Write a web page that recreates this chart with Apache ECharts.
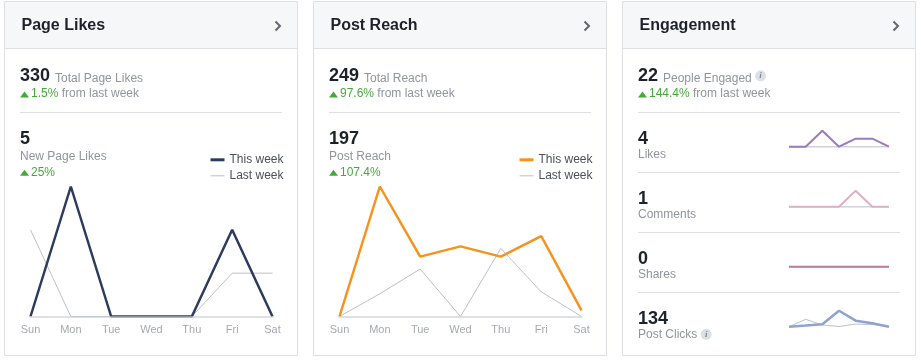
<!DOCTYPE html>
<html>
<head>
<meta charset="utf-8">
<script src="https://cdn.jsdelivr.net/npm/echarts@6/dist/echarts.min.js"></script>
<style>
html,body{margin:0;padding:0;background:#fff;}
#chart{width:921px;height:360px;}
</style>
</head>
<body>
<div id="chart"></div>
<script>
// ---------- data ----------
const days = ['Sun','Mon','Tue','Wed','Thu','Fri','Sat'];
const pageLikesThisWeek = [0,3,0,0,0,2,0];
const pageLikesLastWeek = [2,0,0,0,0,1,1];
const postReachThisWeek = [0,63,29,34,29,39,3];
const postReachLastWeek = [0,11,23,0,33,12,0];
const engLikesThisWeek = [0,0,2,0,1,1,0];
const engLikesLastWeek = [0,0,0,0,0,0,0];
const commentsThisWeek = [0,0,0,0,1,0,0];
const commentsLastWeek = [0,0,0,0,0,0,0];
const sharesThisWeek = [0,0,0,0,0,0,0];
const sharesLastWeek = [0,0,0,0,0,0,0];
const postClicksThisWeek = [0,5,11,74,28,16,0];
const postClicksLastWeek = [0,34,8,1,12,10,0];

const panelTitles = ['Page Likes','Post Reach','Engagement'];
const totalValues = ['330','249','22'];
const totalLabels = ['Total Page Likes','Total Reach','People Engaged'];
const weekChanges = ['1.5%','97.6%','144.4%'];
const fromLastWeek = 'from last week';
const chartValues = ['5','197'];
const chartLabels = ['New Page Likes','Post Reach'];
const chartChanges = ['25%','107.4%'];
const legendLabels = ['This week','Last week'];
const engValues = ['4','1','0','134'];
const engLabels = ['Likes','Comments','Shares','Post Clicks'];
const engInfo = [false,false,false,true];

// ---------- styling ----------
const FONT = '"Liberation Sans", Arial, Helvetica, sans-serif';
const C = {
  border:'#dddfe2', header:'#f6f7f9', title:'#1d2129', num:'#1d2129', gray:'#90949c',
  green:'#45a93a', legend:'#4b4f56', axis:'#a5a9b0', chevron:'#606770',
  navy:'#2c3b5e', orange:'#f6921e', last:'#bcc0c7',
  purple:'#9b7bbb', pink:'#dcb1c3', mauve:'#b97c98', blue:'#8fa3cf', sparkLast:'#cfd2d8'
};
const panelX = [4.5, 313.5, 622.5];
const PW = 293;

const richBase = {
  num:{fontSize:18, fontWeight:'bold', fill:C.num, fontFamily:FONT, verticalAlign:'bottom'},
  lbl:{fontSize:12, fill:C.gray, fontFamily:FONT, verticalAlign:'bottom'},
  g:{fontSize:12, fill:C.green, fontFamily:FONT},
  n:{fontSize:12, fill:C.gray, fontFamily:FONT},
  info:{fontSize:9, fontStyle:'italic', fontWeight:'bold', fill:'#80858e', fontFamily:'"Liberation Serif", serif',
        backgroundColor:'#dcdfe3', borderRadius:6, width:11, height:11, lineHeight:11, align:'center', verticalAlign:'middle'}
};

const G = [];
function text(x, y, t, extra) {
  G.push({type:'text', z:10, silent:true, x:x, y:y,
    style:Object.assign({text:t, fontFamily:FONT, fontSize:12, fill:C.gray, verticalAlign:'middle', rich:richBase}, extra||{})});
}
function tri(x, yb) {
  G.push({type:'polygon', z:10, silent:true, shape:{points:[[x,yb],[x+4.5,yb-6],[x+9,yb]]}, style:{fill:C.green}});
}
function hline(x1, x2, y) {
  G.push({type:'line', z:9, silent:true, shape:{x1:x1,y1:y,x2:x2,y2:y}, style:{stroke:C.border, lineWidth:1}});
}

panelX.forEach((px, i) => {
  G.push({type:'rect', z:1, silent:true, shape:{x:px+0.5, y:2, width:PW-1, height:46}, style:{fill:C.header}});
  hline(px, px+PW, 48.5);
  G.push({type:'rect', z:9, silent:true, shape:{x:px, y:1.5, width:PW, height:354}, style:{fill:null, stroke:C.border, lineWidth:1}});
  text(px+17, 25.5, panelTitles[i], {fontSize:16, fontWeight:'bold', fill:C.title});
  G.push({type:'polyline', z:10, silent:true, shape:{points:[[px+271,21.5],[px+275.5,26],[px+271,30.5]]},
    style:{stroke:C.chevron, lineWidth:2, fill:null}});
  text(px+15.5, 84.8, `{num|${totalValues[i]} }{lbl|${totalLabels[i]}${i===2?' ':''}}` + (i===2?'{info|i}':''), {verticalAlign:'bottom'});
  tri(px+15.5, 97.5);
  text(px+26.5, 93.2, `{g|${weekChanges[i]}} {n|${fromLastWeek}}`);
  hline(px+15.5, px+277.5, 112.5);
});

// chart headers for first two panels
[0,1].forEach(i => {
  const px = panelX[i];
  text(px+15.5, 138.8, chartValues[i], {fontSize:18, fontWeight:'bold', fill:C.num});
  text(px+15.5, 156.5, chartLabels[i]);
  tri(px+15.5, 175.8);
  text(px+26.5, 172.3, chartChanges[i], {fill:C.green});
});

// engagement rows
const rowTop = [138.8, 198.8, 258.8, 318.8];
engValues.forEach((v, r) => {
  const px = panelX[2];
  text(px+15.5, rowTop[r], v, {fontSize:18, fontWeight:'bold', fill:C.num});
  text(px+15.5, rowTop[r]+15.5, engInfo[r] ? `{n|${engLabels[r]} }{info|i}` : engLabels[r]);
  if (r < 3) hline(px+15.5, px+277.5, rowTop[r]+33.7);
});

// ---------- grids / axes / series ----------
const grids = [], xAxes = [], yAxes = [], series = [], legends = [];
const nameMap = {};

function mainChart(gi, px, thisData, lastData, color, key) {
  grids.push({left:px+26, top:186.5, width:242, height:130});
  xAxes.push({type:'category', gridIndex:gi, data:days, boundaryGap:false, z:5,
    axisLine:{lineStyle:{color:'rgba(200,203,210,0.6)', width:2}},
    axisTick:{show:false}, splitLine:{show:false},
    axisLabel:{color:C.axis, fontSize:11, margin:8, interval:0, fontFamily:FONT}});
  yAxes.push({type:'value', gridIndex:gi, min:0, max:Math.max(...thisData, ...lastData), show:false});
  const nThis = key+' this', nLast = key+' last';
  nameMap[nThis] = legendLabels[0]; nameMap[nLast] = legendLabels[1];
  series.push({type:'line', name:nLast, xAxisIndex:gi, yAxisIndex:gi, data:lastData, symbol:'none', z:2,
    itemStyle:{color:C.last}, lineStyle:{color:C.last, width:1}});
  series.push({type:'line', name:nThis, xAxisIndex:gi, yAxisIndex:gi, data:thisData, symbol:'none', z:3,
    itemStyle:{color:color}, lineStyle:{color:color, width:2.5}});
  const lg = {orient:'vertical', icon:'rect', itemWidth:14, padding:0, selectedMode:false,
    formatter:(n)=>nameMap[n], textStyle:{color:C.legend, fontSize:12, fontFamily:FONT}};
  legends.push(Object.assign({}, lg, {data:[nThis], left:px+206, top:153.8, itemHeight:3}));
  legends.push(Object.assign({}, lg, {data:[nLast], left:px+206, top:169.8, itemHeight:1}));
}
mainChart(0, panelX[0], pageLikesThisWeek, pageLikesLastWeek, C.navy, 'likes');
mainChart(1, panelX[1], postReachThisWeek, postReachLastWeek, C.orange, 'reach');

const sparkTops = [130.7, 190.7, 250.7, 310.7];
const sparkData = [
  [engLikesThisWeek, engLikesLastWeek, C.purple, 2, 1.5],
  [commentsThisWeek, commentsLastWeek, C.pink, 2, 1.5],
  [sharesThisWeek, sharesLastWeek, C.mauve, 2, 1.5],
  [postClicksThisWeek, postClicksLastWeek, C.blue, 2.5, 1]
];
sparkData.forEach((s, k) => {
  const gi = 2 + k;
  grids.push({left:789, top:sparkTops[k], width:100, height:16});
  xAxes.push({type:'category', gridIndex:gi, data:days, boundaryGap:false, show:false});
  yAxes.push({type:'value', gridIndex:gi, min:0, max:Math.max(...s[0], ...s[1]) || 1, show:false});
  series.push({type:'line', name:engLabels[k]+' last', xAxisIndex:gi, yAxisIndex:gi, data:s[1], symbol:'none', clip:false, z:2,
    lineStyle:{color:k===3?C.last:C.sparkLast, width:s[4]}, itemStyle:{color:C.sparkLast}});
  series.push({type:'line', name:engLabels[k]+' this', xAxisIndex:gi, yAxisIndex:gi, data:s[0], symbol:'none', clip:false, z:3,
    lineStyle:{color:s[2], width:s[3]}, itemStyle:{color:s[2]}});
});

const chart = echarts.init(document.getElementById('chart'), null, {renderer:'canvas'});
chart.setOption({
  animation:false,
  backgroundColor:'#ffffff',
  grid:grids, xAxis:xAxes, yAxis:yAxes, series:series, legend:legends,
  graphic:{elements:G}
});
</script>
</body>
</html>
